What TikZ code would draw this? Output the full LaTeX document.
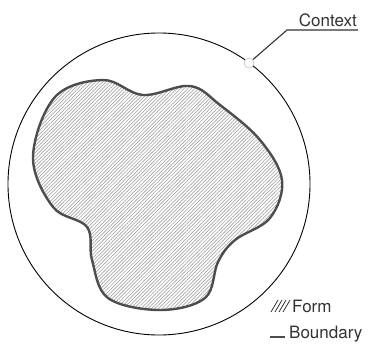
\documentclass[tikz,border=0pt]{standalone}
\usepackage{fontspec}
\setmainfont{TeX Gyre Heros}
\usepackage{xcolor}
\usetikzlibrary{patterns.meta,positioning}
\definecolor{inkDark}{HTML}{333333}
\definecolor{blobLine}{HTML}{4D4D4D}
\definecolor{hatchGray}{HTML}{A6A6A6}
\definecolor{dotLine}{HTML}{CCCCCC}
\tikzset{
  label text/.style={font=\fontsize{17}{20}\selectfont, text=inkDark, inner sep=1pt},
  context ring/.style={draw=black, line width=0.9pt},
  form blob/.style={draw=blobLine, line width=2.4pt,
    pattern={Lines[angle=45, distance=2.5pt, line width=0.7pt]}, pattern color=hatchGray},
  leader/.style={draw=inkDark, line width=1.1pt},
  anchor dot/.style={circle, draw=dotLine, fill=white, line width=0.8pt, minimum size=10pt, inner sep=0pt},
  swatch/.style={draw=inkDark, line width=0.8pt}
}
\begin{document}
\begin{tikzpicture}[x=1pt, y=-1pt]
  \useasboundingbox (0,0) rectangle (371,347);
  % outer context
  \node[context ring, circle, minimum size=302pt, inner sep=0pt] (ring) at (159,184) {};
  % the form
  \draw[form blob] plot[smooth cycle, tension=0.6] coordinates {
    (33,157) (53,207) (87,227) (92,260) (108,298) (160,310) (205,298)
    (218,262) (235,240) (270,218) (282,180) (260,140) (220,105)
    (190,86) (143,95) (103,80) (55,97)};
  % label for the context
  \node[anchor dot] (dot) at (249,63) {};
  \node[label text, anchor=south east] (context) at (358,28) {Context};
  \coordinate (elbow) at (287,30);
  \coordinate (lineend) at (358,30);
  \draw[leader] (dot) -- (elbow) -- (lineend);
  % legend
  \node[label text, anchor=west] (form) at (291,306) {Form};
  \foreach \i in {0,...,3}
    \draw[swatch] (271+4*\i,312) -- (278+4*\i,300);
  \node[label text, anchor=west] (boundary) at (288,334) {Boundary};
  \coordinate (bstart) at (270,337);
  \draw[draw=blobLine, line width=2.8pt] (bstart) -- ++(15,0);
\end{tikzpicture}
\end{document}
